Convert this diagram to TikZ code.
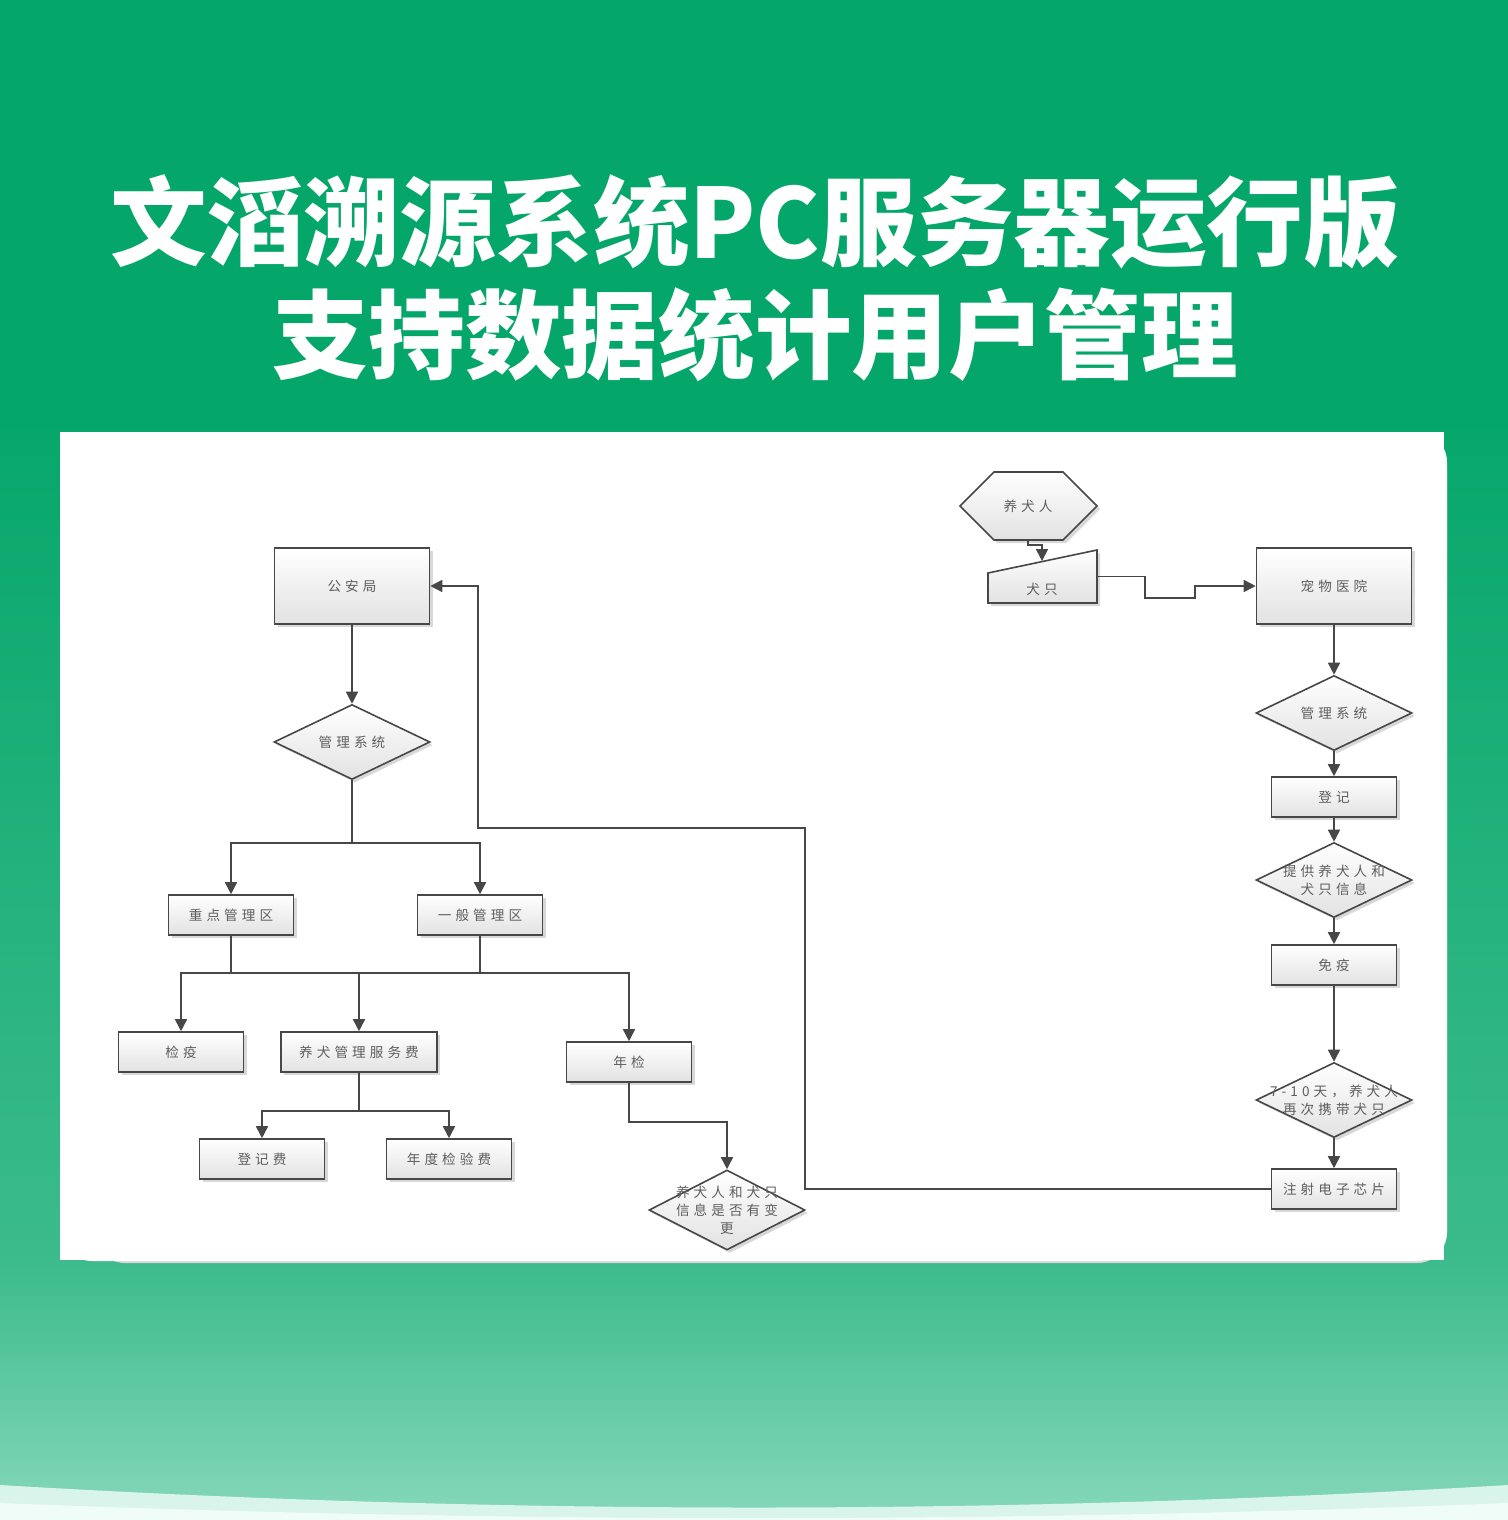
\documentclass[tikz,border=0pt]{standalone}
\usepackage{fontspec}
\usetikzlibrary{arrows.meta,shapes.geometric,shadows}
\newfontfamily\cjk{Noto Sans CJK SC}
\newfontfamily\dg[LetterSpace=30]{Noto Sans CJK SC}
\definecolor{gtop}{HTML}{04A66A}
\definecolor{gmid}{HTML}{3CBB8C}
\definecolor{glow}{HTML}{86D8BB}
\definecolor{band}{HTML}{D9F4EB}
\definecolor{bottomc}{HTML}{EFFCF7}
\definecolor{linec}{HTML}{474747}
\definecolor{txtc}{HTML}{5E5E5E}
\definecolor{boxbot}{HTML}{E2E2E2}
\tikzset{
  box/.style={draw=linec, line width=0.8pt, top color=white, bottom color=boxbot,
    drop shadow={shadow xshift=1.5pt, shadow yshift=-1.5pt, opacity=0.25, fill=black!60},
    font=\dg\fontsize{6.8}{9}\selectfont, text=txtc, inner sep=0pt, align=center},
  bigbox/.style={box, minimum width=77.5pt, minimum height=38pt},
  smallbox/.style={box, minimum width=62.5pt, minimum height=20pt},
  diabox/.style={box, diamond, minimum width=78pt, minimum height=37.5pt},
  lbl/.style={font=\dg\fontsize{6.8}{9}\selectfont, text=txtc, align=center, inner sep=0pt},
  conn/.style={draw=linec, line width=0.8pt},
  arr/.style={conn, -{Triangle[length=6pt,width=6pt]}},
  ttl/.style={font=\cjk\bfseries\fontsize{48.3}{58}\selectfont, text=white, inner sep=0pt},
}
\begin{document}
\begin{tikzpicture}[x=0.5pt,y=-0.5pt]
\useasboundingbox (0,0) rectangle (1508,1520);
% background
\fill[gtop] (0,0) rectangle (1508,431);
\shade[top color=gtop!95!gmid, bottom color=gmid] (0,430) rectangle (1508,1263);
\shade[top color=gmid, bottom color=glow] (0,1262) rectangle (1508,1521);
\fill[band] (0,1485) .. controls (500,1515) and (1008,1515) .. (1508,1485) -- (1508,1521) -- (0,1521) -- cycle;
\fill[bottomc] (0,1503) .. controls (500,1523) and (1008,1523) .. (1508,1503) -- (1508,1521) -- (0,1521) -- cycle;
% panel
\fill[black!15, rounded corners=15pt] (95,440) rectangle (1447,1263);
\fill[white, rounded corners=15pt] (62,432) rectangle (1447,1261);
\fill[white] (60,432) rectangle (1444,1260);
% title
\node[ttl] (t1) at (755,222) {文滔溯源系统PC服务器运行版};
\node[ttl] (t2) at (755,335) {支持数据统计用户管理};
% left column
\node[bigbox] (gaj) at (352,586) {公安局};
\node[diabox] (dia1) at (352,742) {};
\node[lbl] at (dia1.center) {管理系统};
\node[smallbox] (zd) at (231,915) {重点管理区};
\node[smallbox] (yb) at (480,915) {一般管理区};
\node[smallbox] (jy) at (181,1052) {检疫};
\node[smallbox, minimum width=78pt] (fw) at (359,1052) {养犬管理服务费};
\node[smallbox] (nj) at (629,1062) {年检};
\node[smallbox] (djf) at (262,1159) {登记费};
\node[smallbox] (ndf) at (449,1159) {年度检验费};
\node[diabox, minimum height=40pt] (bg) at (727,1210) {};
\node[lbl] at (bg.center) {养犬人和犬只\\信息是否有变\\更};
% right top
\node[minimum width=68.5pt, minimum height=34pt, inner sep=0pt] (hex) at (1028,506) {};
\draw[box] (960,506) -- (994,472) -- (1063,472) -- (1097,506) -- (1063,540) -- (994,540) -- cycle;
\node[lbl] at (hex.center) {养犬人};
\node[minimum width=54.5pt, minimum height=26.5pt, inner sep=0pt] (qz) at (1042.5,576.5) {};
\draw[box] (988,573) -- (1097,550) -- (1097,603) -- (988,603) -- cycle;
\node[lbl] at (1042,589) {犬只};
\coordinate (qzt) at (1042,561);
% right column
\node[bigbox] (cw) at (1334,586) {宠物医院};
\node[diabox] (dia2) at (1334,713) {};
\node[lbl] at (dia2.center) {管理系统};
\node[smallbox] (dj) at (1334,797) {登记};
\node[diabox] (tg) at (1334,880) {};
\node[lbl] at (tg.center) {提供养犬人和\\犬只信息};
\node[smallbox] (my) at (1334,965) {免疫};
\node[diabox] (zc) at (1334,1100) {};
\node[lbl] at (zc.center) {7-10天，养犬人\\再次携带犬只};
\node[smallbox] (zs) at (1334,1189) {注射电子芯片};
% coordinates
\coordinate (j1) at (352,843);
\coordinate (b1) at (231,973);
\coordinate (b2) at (480,973);
\coordinate (b3) at (359,1111);
\coordinate (c1) at (629,1122);
\coordinate (r1) at (805,1189);
\coordinate (r2) at (805,828);
\coordinate (r3) at (478,828);
\coordinate (h1) at (1028,545);
\coordinate (q2) at (1145,598);
\coordinate (q3) at (1195,598);
% connectors left
\draw[arr] (gaj) -- (dia1);
\draw[conn] (dia1.south) -- (j1);
\draw[arr] (j1) -| (zd.north);
\draw[arr] (j1) -| (yb.north);
\draw[conn] (zd.south) -- (b1);
\draw[conn] (yb.south) -- (b2);
\draw[conn] (b1) -- (b2);
\draw[arr] (b1) -| (jy.north);
\draw[arr] (b1) -| (fw.north);
\draw[arr] (b2) -| (nj.north);
\draw[conn] (fw.south) -- (b3);
\draw[arr] (b3) -| (djf.north);
\draw[arr] (b3) -| (ndf.north);
\draw[arr] (nj.south) -- (c1) -| (bg.north);
\draw[arr] (zs.west) -- (r1) -- (r2) -- (r3) |- (gaj.east);
% connectors right
\draw[arr] (hex.south) -- (h1) -| (qzt);
\draw[arr] (qz.east) -| (q2) -- (q3) |- (cw.west);
\draw[arr] (cw) -- (dia2);
\draw[arr] (dia2) -- (dj);
\draw[arr] (dj) -- (tg);
\draw[arr] (tg) -- (my);
\draw[arr] (my) -- (zc);
\draw[arr] (zc) -- (zs);
\end{tikzpicture}
\end{document}
